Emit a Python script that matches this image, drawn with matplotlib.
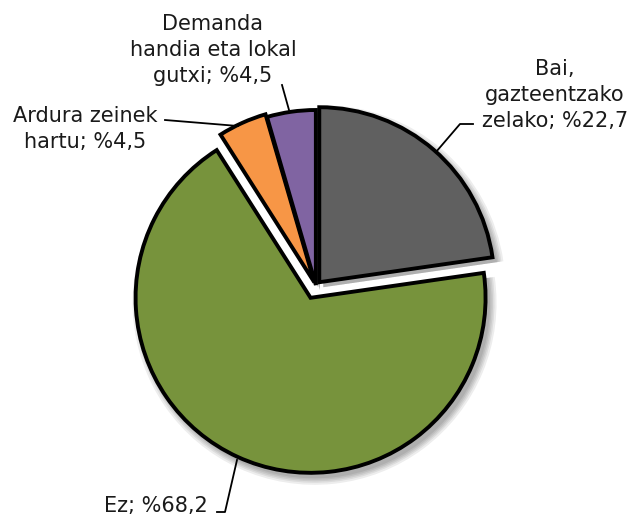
import matplotlib.pyplot as plt

# datuak
labels = ['Bai,\ngazteentzako\nzelako; %22,7', 'Ez; %68,2',
          'Ardura zeinek\nhartu; %4,5', 'Demanda\nhandia eta lokal\ngutxi; %4,5']
values = [22.7, 68.2, 4.5, 4.5]
colors = ['#606060', '#77933C', '#F79646', '#8064A2']

W, H = 635, 518
cx, cy = 316, H - 286   # pie centre (pixel units)
R = 175
explode = [5, 13, 4, 1]

fig = plt.figure(figsize=(6.35, 5.18), dpi=100)
ax = fig.add_axes([0, 0, 1, 1])

# soft shadow
for grow in [7, 5, 3.5, 2, 0.5]:
    ax.pie(values, explode=explode, startangle=90, counterclock=False,
           center=(cx + 4, cy - 5), radius=R + grow, colors=['black'] * 4,
           wedgeprops=dict(alpha=0.07, linewidth=0))

ax.pie(values, explode=explode, startangle=90, counterclock=False,
       center=(cx, cy), radius=R, colors=colors,
       wedgeprops=dict(edgecolor='black', linewidth=2.8, joinstyle='miter'))

ax.set_xlim(0, W)
ax.set_ylim(0, H)
ax.set_aspect('equal')
ax.axis('off')

fs = 15
ls = 1.36
tc = '#1a1a1a'
# labels (positions in image pixels, y from top)
ax.text(555, H - 95, labels[0], ha='center', va='center', fontsize=fs, linespacing=ls, color=tc)
ax.text(208, H - 506, labels[1], ha='right', va='center', fontsize=fs, color=tc)
ax.text(85, H - 129, labels[2], ha='center', va='center', fontsize=fs, linespacing=ls, color=tc)
ax.text(213, H - 50, labels[3], ha='center', va='center', fontsize=fs, linespacing=ls, color=tc)

# leader lines
lk = dict(color='black', lw=1.3)
ax.plot([473, 460, 436], [H - 124, H - 124, H - 152], **lk)
ax.plot([217, 225, 237], [H - 512, H - 512, H - 460], **lk)
ax.plot([165, 238], [H - 120, H - 126], **lk)
ax.plot([282, 289], [H - 85, H - 110], **lk)

plt.savefig('out.png', dpi=100)
